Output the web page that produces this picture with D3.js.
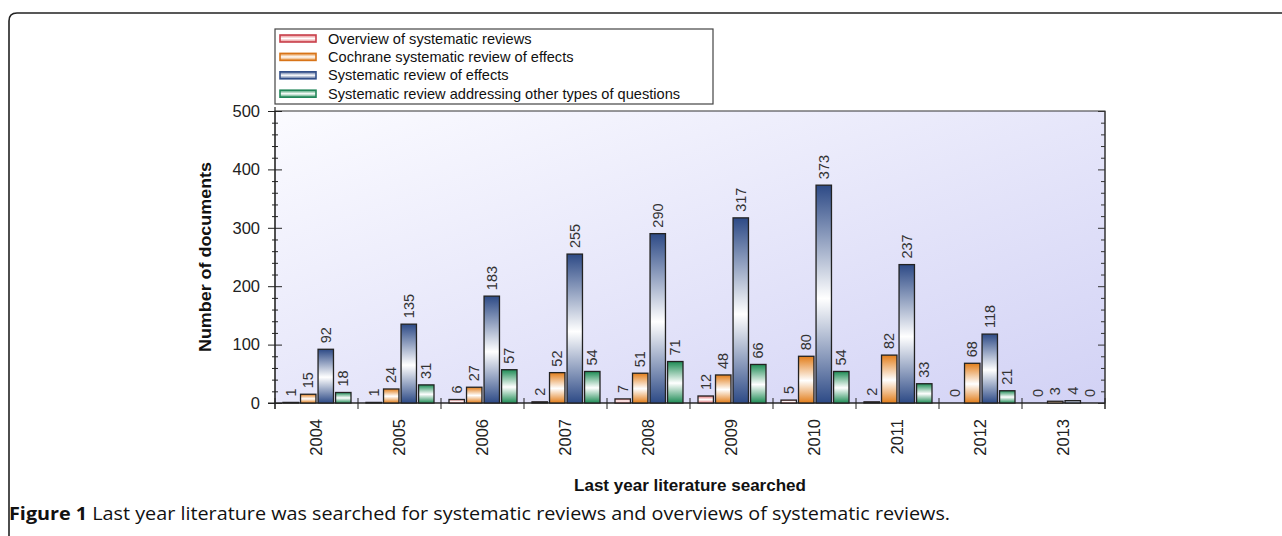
<!DOCTYPE html>
<html>
<head>
<meta charset="utf-8">
<script src="https://cdn.jsdelivr.net/npm/d3@7"></script>
<style>
  body { margin: 0; background: #fff; }
  svg { display: block; }
</style>
</head>
<body>
<svg id="chart" width="1282" height="536"></svg>
<script>
// data
var years = ["2004", "2005", "2006", "2007", "2008", "2009", "2010", "2011", "2012", "2013"];
var seriesNames = [
  "Overview of systematic reviews",
  "Cochrane systematic review of effects",
  "Systematic review of effects",
  "Systematic review addressing other types of questions"
];
var overviewVals = [1, 1, 6, 2, 7, 12, 5, 2, 0, 0];
var cochraneVals = [15, 24, 27, 52, 51, 48, 80, 82, 68, 3];
var effectsVals = [92, 135, 183, 255, 290, 317, 373, 237, 118, 4];
var otherVals = [18, 31, 57, 54, 71, 66, 54, 33, 21, 0];
var yTicks = [0, 100, 200, 300, 400, 500];

var allVals = [overviewVals, cochraneVals, effectsVals, otherVals];
var barColors = ["#e46f72", "#e27d1a", "#2d4a86", "#1e8c55"];
var swatchColors = ["#c8404c", "#d87418", "#34508a", "#23875a"];

var svg = d3.select("#chart");
var defs = svg.append("defs");

// plot background
var bg = defs.append("linearGradient").attr("id", "plotbg")
  .attr("x1", 0).attr("y1", 0).attr("x2", 1).attr("y2", 1);
bg.append("stop").attr("offset", "0%").attr("stop-color", "#fbfbff");
bg.append("stop").attr("offset", "100%").attr("stop-color", "#d2d2f5");

// bar gradients: colour -> white -> colour
barColors.forEach(function(c, i) {
  var g = defs.append("linearGradient").attr("id", "bar" + i)
    .attr("x1", 0).attr("y1", 0).attr("x2", 0).attr("y2", 1);
  g.append("stop").attr("offset", "0%").attr("stop-color", c);
  g.append("stop").attr("offset", "52%").attr("stop-color", "#ffffff");
  g.append("stop").attr("offset", "100%").attr("stop-color", c);
});

// plot box (window.top is reserved, so use other names)
var pLeft = 275, pRight = 1105, pTop = 111, pBottom = 403;

var x0 = d3.scaleBand().domain(years).range([pLeft, pRight]).padding(0);
var x1 = d3.scaleBand().domain(d3.range(4)).range([8, 76]).paddingInner(0.12);
var y = d3.scaleLinear().domain([0, 500]).range([pBottom, pTop]);

// outer frame (open on right & bottom)
svg.append("path")
  .attr("d", "M9,536 L9,21 Q9,13 17,13 L1282,13")
  .attr("fill", "none").attr("stroke", "#222").attr("stroke-width", 1.6);

// plot area
svg.append("rect")
  .attr("x", pLeft).attr("y", pTop)
  .attr("width", pRight - pLeft).attr("height", pBottom - pTop)
  .attr("fill", "url(#plotbg)")
  .attr("stroke", "#333").attr("stroke-width", 1);

// left axis: labels + crossing ticks
var minorTicks = d3.range(0, 501, 20).filter(function(v) { return v % 100 !== 0; });

var yAxisG = svg.append("g").attr("transform", "translate(" + (pLeft + 7) + ",0)")
  .call(d3.axisLeft(y).tickValues(yTicks).tickSize(14).tickPadding(8).tickSizeOuter(0));
yAxisG.select(".domain").remove();
yAxisG.selectAll("line").attr("stroke", "#222");
yAxisG.selectAll("text")
  .attr("font-family", "Liberation Sans, Arial, sans-serif")
  .attr("font-size", 16.5).attr("fill", "#222");

var yMinorG = svg.append("g").attr("transform", "translate(" + (pLeft + 3) + ",0)")
  .call(d3.axisLeft(y).tickValues(minorTicks).tickSize(6).tickFormat(""));
yMinorG.select(".domain").remove();
yMinorG.selectAll("line").attr("stroke", "#222");

// right axis: inside ticks
var rMajor = svg.append("g").attr("transform", "translate(" + pRight + ",0)")
  .call(d3.axisLeft(y).tickValues(yTicks).tickSize(7).tickFormat("").tickSizeOuter(0));
rMajor.select(".domain").remove();
rMajor.selectAll("line").attr("stroke", "#333");
var rMinor = svg.append("g").attr("transform", "translate(" + pRight + ",0)")
  .call(d3.axisLeft(y).tickValues(minorTicks).tickSize(4).tickFormat(""));
rMinor.select(".domain").remove();
rMinor.selectAll("line").attr("stroke", "#333");

// left and right axis lines
svg.append("line").attr("x1", pLeft).attr("x2", pLeft).attr("y1", pTop - 4).attr("y2", pBottom + 6)
  .attr("stroke", "#222").attr("stroke-width", 1.2);
svg.append("line").attr("x1", pRight).attr("x2", pRight).attr("y1", pTop).attr("y2", pBottom + 6)
  .attr("stroke", "#333").attr("stroke-width", 1);

// bottom axis
svg.append("line").attr("x1", pLeft - 7).attr("x2", pRight).attr("y1", pBottom).attr("y2", pBottom)
  .attr("stroke", "#222").attr("stroke-width", 1.2);
svg.append("g").selectAll("line")
  .data(years.concat(["end"]))
  .enter().append("line")
  .attr("x1", function(d, i) { return pLeft + i * x0.bandwidth(); })
  .attr("x2", function(d, i) { return pLeft + i * x0.bandwidth(); })
  .attr("y1", pBottom - 5).attr("y2", pBottom + 6)
  .attr("stroke", "#222");

svg.append("g").selectAll("text")
  .data(years)
  .enter().append("text")
  .attr("transform", function(d) {
    return "translate(" + (x0(d) + x0.bandwidth() / 2) + "," + (pBottom + 16) + ") rotate(-90)";
  })
  .attr("text-anchor", "end")
  .attr("dy", "0.35em")
  .attr("font-family", "Liberation Sans, Arial, sans-serif")
  .attr("font-size", 16.5).attr("fill", "#222")
  .text(function(d) { return d; });

// bars
var groups = svg.append("g").selectAll(".yr")
  .data(years)
  .enter().append("g")
  .attr("class", "yr")
  .attr("transform", function(d) { return "translate(" + x0(d) + ",0)"; });

groups.each(function(yr, yi) {
  var gg = d3.select(this);
  allVals.forEach(function(vals, si) {
    var v = vals[yi];
    if (v > 0) {
      gg.append("rect")
        .attr("x", x1(si)).attr("y", y(v))
        .attr("width", x1.bandwidth()).attr("height", y(0) - y(v))
        .attr("fill", "url(#bar" + si + ")")
        .attr("stroke", "#222").attr("stroke-width", 1.3);
    }
    gg.append("text")
      .attr("transform", "translate(" + (x1(si) + x1.bandwidth() / 2) + "," + (y(v) - 6) + ") rotate(-90)")
      .attr("text-anchor", "start")
      .attr("dy", "0.35em")
      .attr("font-family", "Liberation Sans, Arial, sans-serif")
      .attr("font-size", 14.5).attr("fill", "#333")
      .text(v);
  });
});

// axis titles
svg.append("text")
  .attr("transform", "translate(205,257) rotate(-90)")
  .attr("text-anchor", "middle").attr("dy", "0.35em")
  .attr("font-family", "Liberation Sans, Arial, sans-serif")
  .attr("font-weight", "bold").attr("font-size", 16.5).attr("fill", "#111")
  .attr("textLength", 190).attr("lengthAdjust", "spacingAndGlyphs")
  .text("Number of documents");

svg.append("text")
  .attr("x", 690).attr("y", 491)
  .attr("text-anchor", "middle")
  .attr("font-family", "Liberation Sans, Arial, sans-serif")
  .attr("font-weight", "bold").attr("font-size", 16).attr("fill", "#111")
  .attr("textLength", 232).attr("lengthAdjust", "spacingAndGlyphs")
  .text("Last year literature searched");

// legend
var legend = svg.append("g");
legend.append("rect")
  .attr("x", 275).attr("y", 29).attr("width", 438).attr("height", 75)
  .attr("fill", "#fff").attr("stroke", "#444").attr("stroke-width", 1.2);

seriesNames.forEach(function(name, i) {
  var cy = 38.5 + i * 18.4;
  var sg = defs.append("linearGradient").attr("id", "sw" + i)
    .attr("x1", 0).attr("y1", 0).attr("x2", 0).attr("y2", 1);
  sg.append("stop").attr("offset", "0%").attr("stop-color", barColors[i]).attr("stop-opacity", 0.8);
  sg.append("stop").attr("offset", "50%").attr("stop-color", "#fff");
  sg.append("stop").attr("offset", "100%").attr("stop-color", barColors[i]).attr("stop-opacity", 0.8);
  legend.append("rect")
    .attr("x", 280).attr("y", cy - 3.5).attr("width", 36).attr("height", 7)
    .attr("fill", "url(#sw" + i + ")")
    .attr("stroke", swatchColors[i]).attr("stroke-width", 1.6);
  legend.append("text")
    .attr("x", 328).attr("y", cy).attr("dy", "0.35em")
    .attr("font-family", "Liberation Sans, Arial, sans-serif")
    .attr("font-size", 14.6).attr("fill", "#111")
    .text(name);
});

// caption
var cap = svg.append("text")
  .attr("x", 9).attr("y", 520)
  .attr("font-family", "Open Sans, Noto Sans, sans-serif")
  .attr("font-size", 18.5).attr("fill", "#111")
  .attr("textLength", 941).attr("lengthAdjust", "spacingAndGlyphs");
cap.append("tspan").attr("font-weight", "bold").text("Figure 1");
cap.append("tspan").text(" Last year literature was searched for systematic reviews and overviews of systematic reviews.");
</script>
</body>
</html>
